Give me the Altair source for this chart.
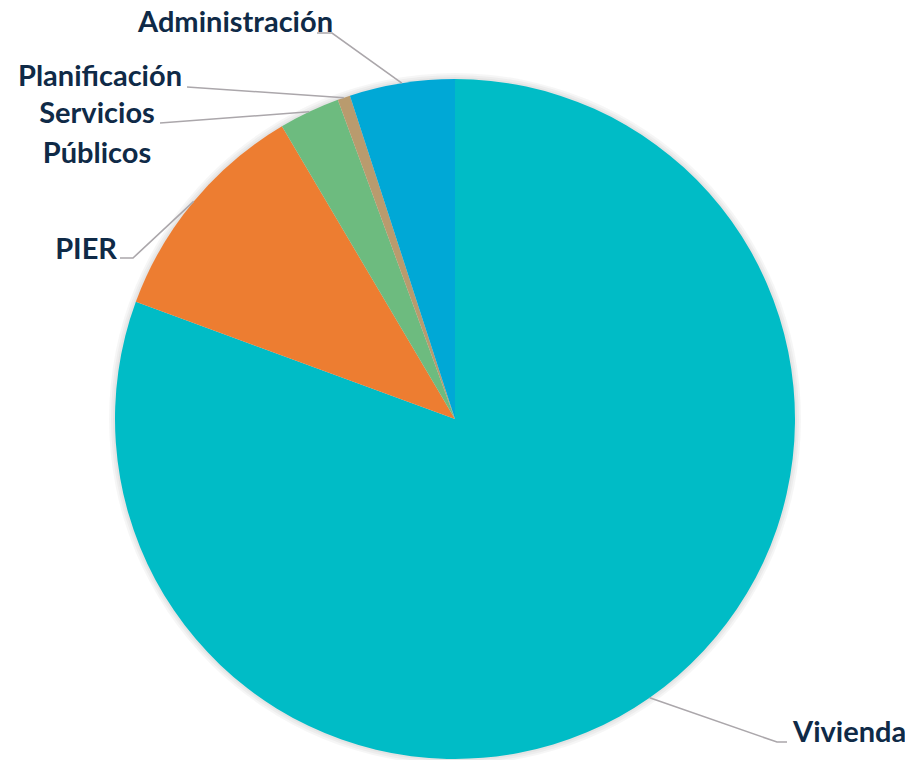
import math
import altair as alt
import pandas as pd

# ---- data ----
categories = ["Vivienda", "PIER", "Servicios Públicos", "Planificación", "Administración"]
values = [80.6, 10.9, 2.9, 0.6, 5.0]
colors = ["#00BCC6", "#ED7D31", "#6DBB7F", "#B99B6E", "#00A8D6"]
label_texts = ["Vivienda", "PIER", "Servicios\nPúblicos", "Planificación", "Administración"]

# ---- layout (annotation positions, plot pixel coordinates) ----
W, H = 897, 752
CX, CY, R = 447, 411, 340
label_x = [785, 109, 89, 174, 325]
label_y = [734, 251, 115, 78, 24]
label_align = ["left", "right", "center", "right", "right"]
leader_start = [[(779, 734), (769, 734)], [(112, 250), (125, 250)], [(152, 115)],
                [(179, 79)], [(309, 25), (324, 25)]]

TEXT = "#0F2A47"
FONT = "Lato"

total = sum(values)
pie_df = pd.DataFrame({"cat": categories, "value": values, "idx": list(range(len(values)))})

# anchor points at slice mid-angle on the pie edge
line_rows = []
cum = 0.0
for i, (c, v) in enumerate(zip(categories, values)):
    frac = (cum + v / 2) / total
    cum += v
    ang = 2 * math.pi * frac
    ax = CX + R * math.sin(ang)
    ay = CY - R * math.cos(ang)
    pts = list(leader_start[i]) + [(ax, ay)]
    for k, (px, py) in enumerate(pts):
        line_rows.append({"cat": c, "k": k, "x": px, "y": py})
line_df = pd.DataFrame(line_rows)

lab_df = pd.DataFrame({"cat": categories, "text": label_texts, "x": label_x, "y": label_y,
                       "align": label_align})

one = pd.DataFrame({"a": [0]})
shadows = [
    alt.Chart(one).mark_arc(theta=0, theta2=2 * math.pi, outerRadius=r, color="#000000", opacity=0.035)
    .encode(x=alt.value(CX), y=alt.value(CY))
    for r in (346, 344, 342)
]

pie = alt.Chart(pie_df).mark_arc(outerRadius=R, strokeWidth=0).encode(
    theta=alt.Theta("value:Q", stack=True),
    order=alt.Order("idx:Q"),
    color=alt.Color("cat:N", scale=alt.Scale(domain=categories, range=colors), legend=None),
    x=alt.value(CX),
    y=alt.value(CY),
)

lines = alt.Chart(line_df).mark_line(color="#ABA7AB", strokeWidth=1.6).encode(
    x=alt.X("x:Q", scale=None),
    y=alt.Y("y:Q", scale=None),
    detail="cat:N",
    order="k:Q",
)

text_layers = []
for al in ["left", "right", "center"]:
    sub = lab_df[lab_df["align"] == al]
    text_layers.append(
        alt.Chart(sub).mark_text(
            align=al, baseline="alphabetic", font=FONT, fontWeight="bold", fontSize=29,
            color=TEXT, lineBreak="\n", lineHeight=40
        ).encode(
            x=alt.X("x:Q", scale=None),
            y=alt.Y("y:Q", scale=None),
            text="text:N",
        )
    )

chart = alt.layer(*shadows, pie, lines, *text_layers).properties(
    width=W, height=H, padding=0, autosize=alt.AutoSizeParams(type="none")
).configure_view(stroke=None)

chart.save("out.html", embed_options={"renderer": "svg", "actions": False})
